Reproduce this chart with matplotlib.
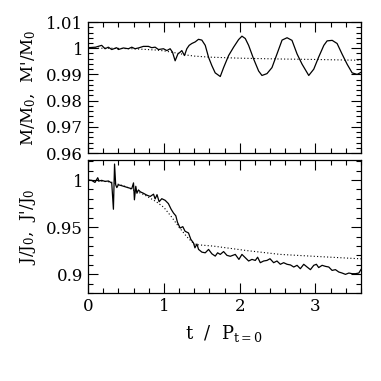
import matplotlib
matplotlib.use("Agg")
import matplotlib.pyplot as plt
from matplotlib.ticker import MultipleLocator, FixedLocator, FixedFormatter

plt.rcParams['font.family'] = 'DejaVu Serif'
plt.rcParams['mathtext.fontset'] = 'dejavuserif'

# mass, solid line
t_m = [0.0, 0.10, 0.18, 0.225, 0.268, 0.313, 0.379, 0.40, 0.467, 0.533, 0.577,
       0.62, 0.665, 0.73, 0.797, 0.84, 0.885, 0.929, 0.995, 1.04, 1.083, 1.114,
       1.149, 1.185, 1.215, 1.237, 1.272, 1.303, 1.334, 1.369, 1.413, 1.457,
       1.501, 1.546, 1.59, 1.634, 1.677, 1.744, 1.788, 1.854, 1.92, 1.986,
       2.03, 2.074, 2.118, 2.184, 2.25, 2.294, 2.36, 2.426, 2.492, 2.559,
       2.625, 2.69, 2.757, 2.823, 2.911, 2.977, 3.04, 3.11, 3.153, 3.22,
       3.285, 3.35, 3.417, 3.483, 3.549, 3.6]
m_sol = [1.0002, 1.0004, 1.0011, 0.9998, 1.0004, 0.9995, 1.0002, 0.9995, 1.0001,
         0.9998, 1.0004, 0.9998, 1.0001, 1.0007, 1.0007, 1.0002, 1.0004, 0.9995,
         0.9998, 0.9991, 0.9998, 0.9985, 0.9952, 0.9978, 0.9985, 0.9991,
         0.9972, 0.9998, 1.0011, 1.0018, 1.0024, 1.0034, 1.0031, 1.0011,
         0.9965, 0.9933, 0.9906, 0.9892, 0.9926, 0.9972, 1.0004, 1.0033,
         1.0046, 1.0037, 1.0011, 0.9959, 0.9913, 0.9896, 0.9903, 0.9926,
         0.9978, 1.0031, 1.0040, 1.0030, 0.9978, 0.9939, 0.9896, 0.9920,
         0.9965, 1.0011, 1.0028, 1.0030, 1.0018, 0.9978, 0.9939, 0.9906,
         0.9900, 0.9908]

# mass, dotted line
t_md = [0.0, 0.3, 0.6, 0.9, 1.0, 1.1, 1.2, 1.3, 1.4, 1.6, 2.0, 2.5, 3.0, 3.6]
m_dot = [1.0, 1.0, 0.9998, 0.9993, 0.9990, 0.9985, 0.9980, 0.9974, 0.9970,
         0.9966, 0.9962, 0.9959, 0.9957, 0.9954]

# angular momentum, solid line
t_j = [0.0, 0.048, 0.092, 0.128, 0.145, 0.18, 0.225, 0.27, 0.313, 0.335,
       0.35, 0.365, 0.38, 0.40, 0.445, 0.489, 0.533, 0.577, 0.60, 0.612,
       0.63, 0.645, 0.665, 0.69, 0.73, 0.775, 0.82, 0.864, 0.885, 0.91,
       0.938, 0.973, 1.017, 1.06, 1.096, 1.127, 1.158, 1.18, 1.215, 1.25,
       1.28, 1.325, 1.356, 1.39, 1.41, 1.436, 1.458, 1.502, 1.546, 1.59,
       1.634, 1.678, 1.709, 1.744, 1.788, 1.832, 1.876, 1.942, 1.99, 2.03,
       2.074, 2.118, 2.162, 2.206, 2.237, 2.272, 2.316, 2.36, 2.40, 2.448,
       2.492, 2.536, 2.58, 2.625, 2.67, 2.713, 2.757, 2.80, 2.845, 2.889,
       2.933, 2.977, 3.012, 3.042, 3.087, 3.131, 3.175, 3.219, 3.263, 3.307,
       3.351, 3.395, 3.44, 3.483, 3.527, 3.571, 3.6]
j_sol = [1.0003, 0.9996, 0.9975, 1.0025, 0.9990, 0.9997, 0.9986, 0.9990,
         0.9968, 0.969, 1.017, 0.995, 0.992, 0.995, 0.994, 0.9929, 0.9918,
         0.9908, 0.997, 0.979, 0.9934, 0.986, 0.9895, 0.9875, 0.986, 0.984,
         0.9826, 0.985, 0.980, 0.9845, 0.977, 0.9802, 0.9785, 0.975, 0.969,
         0.965, 0.962, 0.955, 0.949, 0.9505, 0.9456, 0.9438, 0.937, 0.9333,
         0.928, 0.932, 0.9263, 0.9234, 0.9227, 0.9263, 0.9216, 0.9192,
         0.9227, 0.921, 0.924, 0.920, 0.919, 0.921, 0.9157, 0.921, 0.9175,
         0.914, 0.9157, 0.9146, 0.918, 0.9122, 0.914, 0.9146, 0.9164, 0.9122,
         0.914, 0.9105, 0.9122, 0.9105, 0.9098, 0.9076, 0.9094, 0.9058,
         0.9105, 0.9076, 0.9048, 0.9094, 0.9105, 0.907, 0.9094, 0.9083,
         0.9076, 0.904, 0.9048, 0.9023, 0.9012, 0.8998, 0.9012, 0.9005,
         0.9005, 0.9012, 0.9050]

# angular momentum, dotted line
t_jd = [0.0, 0.3, 0.5, 0.75, 0.9, 1.0, 1.1, 1.2, 1.3, 1.4, 1.45, 1.656,
        2.1, 2.536, 2.977, 3.6]
j_dot = [1.0, 0.998, 0.993, 0.984, 0.977, 0.971, 0.961, 0.950, 0.940, 0.932,
         0.9312, 0.9298, 0.925, 0.921, 0.919, 0.9163]

fig = plt.figure(figsize=(3.81, 3.81), dpi=100)
ax1 = fig.add_axes([0.231, 0.5984, 0.7165, 0.3438])
ax2 = fig.add_axes([0.231, 0.231, 0.7165, 0.349])

ax1.plot(t_m, m_sol, color='black', lw=0.9)
ax1.plot(t_md, m_dot, color='black', lw=0.8, ls=(0, (1, 2)))
ax2.plot(t_j, j_sol, color='black', lw=0.9)
ax2.plot(t_jd, j_dot, color='black', lw=0.8, ls=(0, (1, 2)))

for ax in (ax1, ax2):
    ax.set_xlim(0, 3.6)
    ax.xaxis.set_major_locator(MultipleLocator(1))
    ax.xaxis.set_minor_locator(MultipleLocator(0.2))
    ax.tick_params(which='both', direction='in', top=True, right=True,
                   labelsize=12, width=0.8)
    ax.tick_params(which='major', length=7)
    ax.tick_params(which='minor', length=3.5)
    for s in ax.spines.values():
        s.set_linewidth(0.9)

ax1.set_ylim(0.96, 1.01)
ax1.yaxis.set_major_locator(FixedLocator([0.96, 0.97, 0.98, 0.99, 1.0, 1.01]))
ax1.yaxis.set_major_formatter(FixedFormatter(['0.96', '0.97', '0.98', '0.99', '1', '1.01']))
ax1.yaxis.set_minor_locator(MultipleLocator(0.002))
ax1.tick_params(labelbottom=False)
ax1.set_ylabel(r"M/M$_0$,  M'/M$_0$", fontsize=12, labelpad=6)

ax2.set_ylim(0.88, 1.0213)
ax2.yaxis.set_major_locator(FixedLocator([0.9, 0.95, 1.0]))
ax2.yaxis.set_major_formatter(FixedFormatter(['0.9', '0.95', '1']))
ax2.yaxis.set_minor_locator(MultipleLocator(0.01))
ax2.xaxis.set_major_formatter(FixedFormatter(['0', '1', '2', '3']))
ax2.xaxis.set_major_locator(FixedLocator([0, 1, 2, 3]))
ax2.set_ylabel(r"J/J$_0$,  J'/J$_0$", fontsize=12, labelpad=6)
ax2.set_xlabel(r"t  /  P$_{\rm t=0}$", fontsize=13, labelpad=6)

fig.savefig("out.png", dpi=100)
